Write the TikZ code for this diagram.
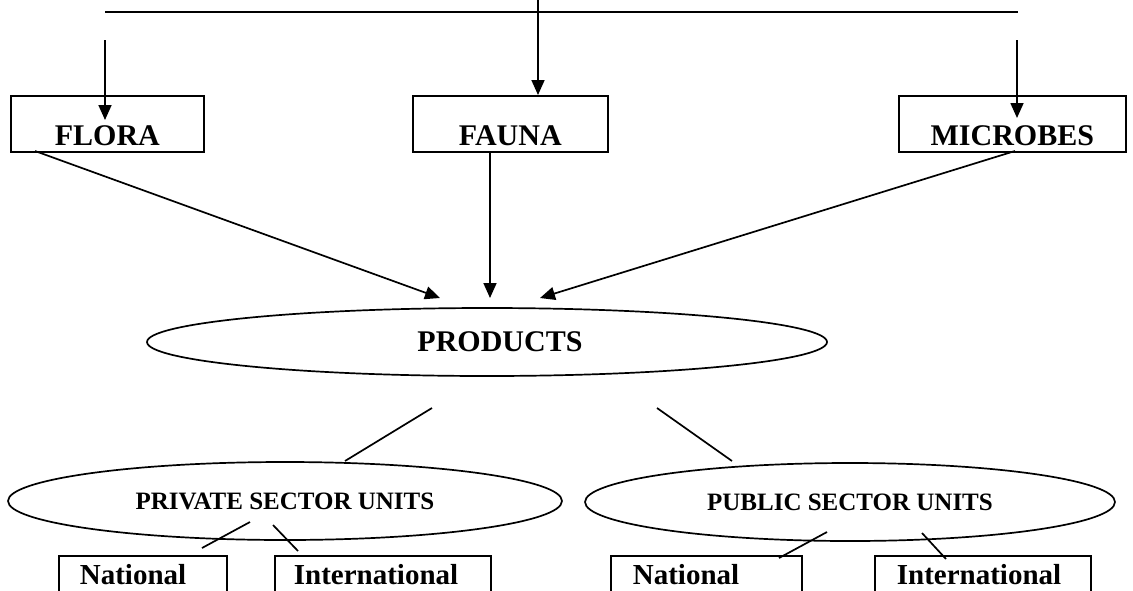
\documentclass[tikz,border=0pt]{standalone}
\usepackage{fontspec}
\setmainfont{Liberation Serif}
\usetikzlibrary{arrows.meta,shapes.geometric}
\begin{document}
\begin{tikzpicture}[x=1pt,y=-1pt,
  ln/.style={line width=1.7pt},
  arr/.style={ln,-{Triangle[length=15pt,width=13pt]}},
  tbox/.style={draw,ln,rectangle,inner sep=0pt,anchor=north west,
    font=\fontsize{30}{32}\selectfont\bfseries,align=center,
    text height=50pt,text depth=6pt},
  bbox/.style={draw,ln,rectangle,inner sep=0pt,anchor=north west,
    font=\fontsize{29}{31}\selectfont\bfseries,align=left,
    text height=29pt,text depth=41pt},
  oval/.style={draw,ln,ellipse,inner sep=0pt}]
\useasboundingbox (0,0) rectangle (1133,590);
\clip (0,0) rectangle (1133,590);

% top boxes
\node[tbox,text width=193pt] (flora) at (10,95) {FLORA};
\node[tbox,text width=195pt] (fauna) at (412,95) {FAUNA};
\node[tbox,text width=227pt] (microbes) at (898,95) {MICROBES};

% top distribution lines
\coordinate (tl) at (105,12);
\coordinate (tr) at (1018,12);
\coordinate (ctop) at (538,0);
\coordinate (la) at (105,40);
\coordinate (ltip) at (105,120);
\coordinate (ra) at (1017,40);
\coordinate (rtip) at (1017,118);
\draw[ln] (tl) -- (tr);
\draw[arr] (ctop) -- (ctop |- fauna.north);
\draw[arr] (la) -- (ltip);
\draw[arr] (ra) -- (rtip);

% products
\node[oval,minimum width=680pt,minimum height=68pt,
  font=\fontsize{30}{32}\selectfont\bfseries] (products) at (487,342) {\hspace*{26pt}PRODUCTS};

\coordinate (fl1) at (35,151);
\coordinate (fa1) at (490,151);
\coordinate (mi1) at (1015,151);
\coordinate (pl) at (440,298);
\coordinate (pc) at (490,298);
\coordinate (pr) at (540,298);
\draw[arr] (fl1) -- (pl);
\draw[arr] (fa1) -- (pc);
\draw[arr] (mi1) -- (pr);

% sectors
\node[oval,minimum width=554pt,minimum height=78pt,
  font=\fontsize{25}{27}\selectfont\bfseries] (private) at (285,501) {PRIVATE SECTOR UNITS};
\node[oval,minimum width=530pt,minimum height=78pt,
  font=\fontsize{25}{27}\selectfont\bfseries] (public) at (850,502) {PUBLIC SECTOR UNITS};

\coordinate (pa) at (432,408);
\coordinate (pb) at (345,461);
\coordinate (pcc) at (657,408);
\coordinate (pd) at (732,461);
\draw[ln] (pa) -- (pb);
\draw[ln] (pcc) -- (pd);

% bottom boxes
\node[bbox,text width=168pt] (nat1) at (58,555) {\hspace*{21pt}National};
\node[bbox,text width=216pt] (int1) at (274,555) {\hspace*{19pt}International};
\node[bbox,text width=191pt] (nat2) at (610,555) {\hspace*{22pt}National};
\node[bbox,text width=216pt] (int2) at (874,555) {\hspace*{22pt}International};

\coordinate (a1) at (250,522);
\coordinate (a2) at (202,548);
\coordinate (b1) at (273,525);
\coordinate (b2) at (298,551);
\coordinate (c1) at (827,532);
\coordinate (c2) at (779,558);
\coordinate (d1) at (922,533);
\coordinate (d2) at (946,559);
\draw[ln] (a1) -- (a2);
\draw[ln] (b1) -- (b2);
\draw[ln] (c1) -- (c2);
\draw[ln] (d1) -- (d2);
\end{tikzpicture}
\end{document}
